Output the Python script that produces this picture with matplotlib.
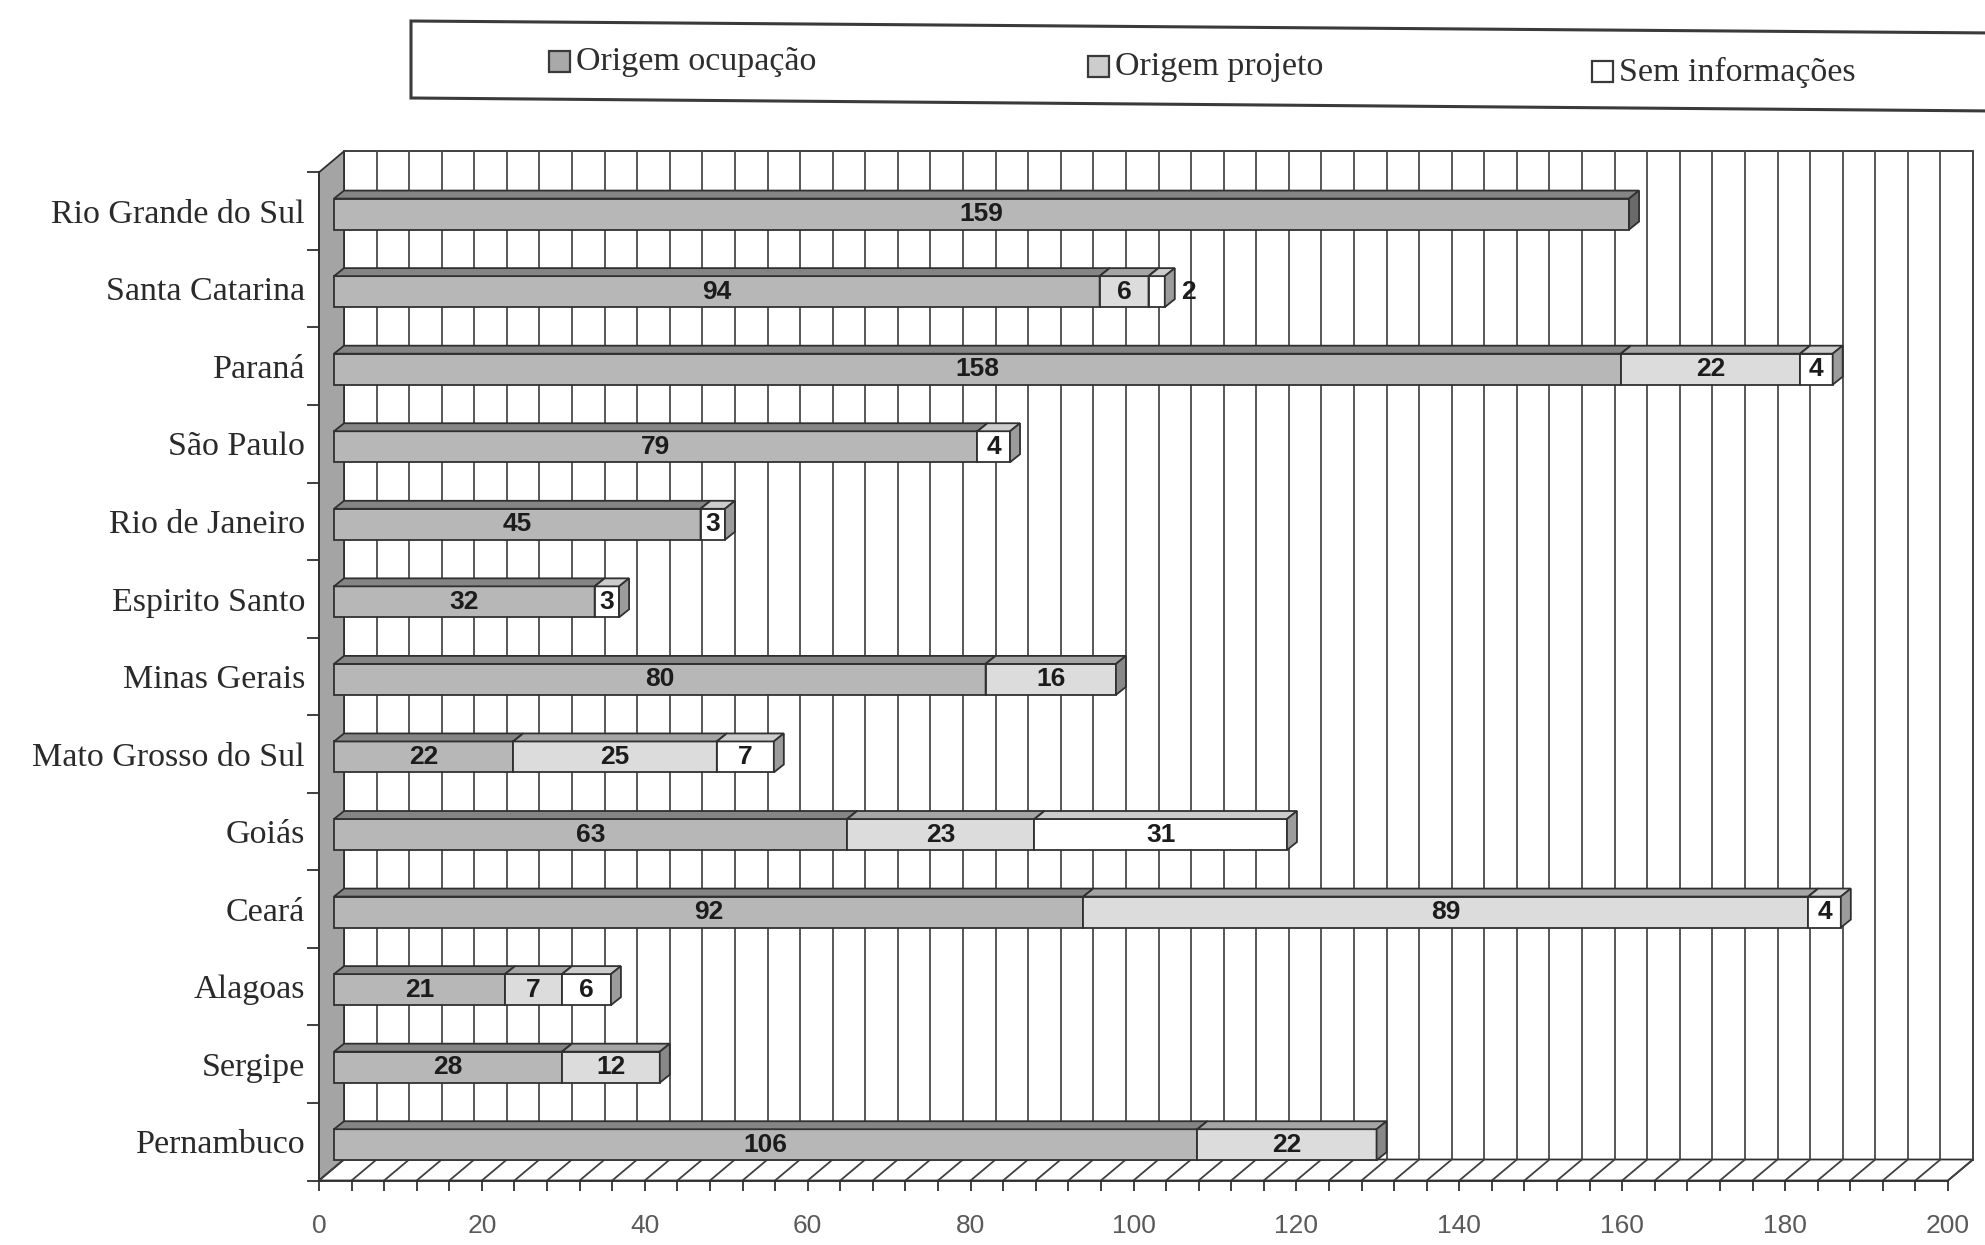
import matplotlib
matplotlib.use("Agg")
import matplotlib.pyplot as plt
from matplotlib.patches import Polygon, Rectangle
from matplotlib.ticker import MultipleLocator, FixedLocator

# ---- data ----
states = ["Rio Grande do Sul", "Santa Catarina", "Paraná", "São Paulo",
          "Rio de Janeiro", "Espirito Santo", "Minas Gerais",
          "Mato Grosso do Sul", "Goiás", "Ceará", "Alagoas", "Sergipe",
          "Pernambuco"]
origem_ocupacao = [159, 94, 158, 79, 45, 32, 80, 22, 63, 92, 21, 28, 106]
origem_projeto = [0, 6, 22, 0, 0, 0, 16, 25, 23, 89, 7, 12, 22]
sem_informacoes = [0, 2, 4, 4, 3, 3, 0, 7, 31, 4, 6, 0, 0]
series_names = ["Origem ocupação", "Origem projeto", "Sem informações"]
x_ticks = [0, 20, 40, 60, 80, 100, 120, 140, 160, 180, 200]

# ---- styling ----
front_cols = ["#b7b7b7", "#dcdcdc", "#ffffff"]
top_cols = ["#858585", "#a5a5a5", "#cccccc"]
end_cols = ["#6a6a6a", "#888888", "#9c9c9c"]
legend_cols = ["#a9a9a9", "#cdcdcd", "#ffffff"]
EDGE = "#303030"
SERIF = ["Liberation Serif", "DejaVu Serif"]
SANS = ["Liberation Sans", "DejaVu Sans"]

W, H = 1985, 1245
DPI = 100
AX_L, AX_R = 319, 1948
AX_T, AX_B = 172.3, 1180.5

fig = plt.figure(figsize=(W / DPI, H / DPI), dpi=DPI)
fig.patch.set_facecolor("white")
ax = fig.add_axes([AX_L / W, 1 - AX_B / H, (AX_R - AX_L) / W, (AX_B - AX_T) / H])
ax.set_xlim(0, 200)
ax.set_ylim(len(states) - 0.5, -0.5)
ax.set_facecolor("none")

# pixel -> data unit conversion (y grows downward in data)
ux = 200 / (AX_R - AX_L)
uy = len(states) / (AX_B - AX_T)

n = len(states)
y_top, y_bot = -0.5, n - 0.5

# depth of the chart box
wdx, wdy = 25 * ux, -21 * uy

def poly(pts, fc, ec=EDGE, lw=1.3, z=1):
    ax.add_patch(Polygon(pts, closed=True, facecolor=fc, edgecolor=ec,
                         linewidth=lw, zorder=z, clip_on=False,
                         joinstyle="miter"))

# back wall with vertical gridlines
poly([(wdx, y_top + wdy), (200 + wdx, y_top + wdy),
      (200 + wdx, y_bot + wdy), (wdx, y_bot + wdy)], "white", z=0.5)
for v in range(0, 201, 4):
    ax.plot([v + wdx, v + wdx], [y_top + wdy, y_bot + wdy], color="#4a4a4a",
            lw=1.3, zorder=0.6, clip_on=False)

# side wall
poly([(0, y_top), (wdx, y_top + wdy), (wdx, y_bot + wdy), (0, y_bot)],
     "#a4a4a4", z=0.8)

# floor with slanted grid
poly([(0, y_bot), (200, y_bot), (200 + wdx, y_bot + wdy), (wdx, y_bot + wdy)],
     "white", z=0.8)
for v in range(0, 201, 4):
    ax.plot([v, v + wdx], [y_bot, y_bot + wdy], color="#404040", lw=1.3,
            zorder=0.9, clip_on=False)

# 3-D stacked bars
sx, sy = 15 * ux, 3 * uy          # bar offset into the box
bh = 31 * uy                       # bar thickness
bdx, bdy = 10 * ux, -8 * uy        # bar depth

for i in range(n):
    vals = [origem_ocupacao[i], origem_projeto[i], sem_informacoes[i]]
    yc = i + sy
    yt, yb = yc - bh / 2, yc + bh / 2
    left = 0
    for k, v in enumerate(vals):
        if v == 0:
            continue
        xa, xb = left + sx, left + v + sx
        z = 2 + i * 0.01 + k * 0.001
        poly([(xa, yt), (xb, yt), (xb, yb), (xa, yb)], front_cols[k], lw=1.3, z=z)
        poly([(xa, yt), (xb, yt), (xb + bdx, yt + bdy), (xa + bdx, yt + bdy)],
             top_cols[k], lw=1.3, z=z)
        poly([(xb, yt), (xb + bdx, yt + bdy), (xb + bdx, yb + bdy), (xb, yb)],
             end_cols[k], lw=1.3, z=z)
        if v >= 3:
            ax.text((xa + xb) / 2, yc, str(v), ha="center", va="center",
                    fontsize=19, fontweight="bold", family=SANS,
                    color="#1c1c1c", zorder=5, clip_on=False)
        else:
            ax.text(xb + bdx + 6 * ux, yc, str(v), ha="left", va="center",
                    fontsize=19, fontweight="bold", family=SANS,
                    color="#1c1c1c", zorder=5, clip_on=False)
        left += v

# axes, ticks and labels
for s in ["top", "right"]:
    ax.spines[s].set_visible(False)
for s in ["left", "bottom"]:
    ax.spines[s].set_color(EDGE)
    ax.spines[s].set_linewidth(1.3)
    ax.spines[s].set_zorder(1)

ax.set_yticks(range(n))
ax.set_yticklabels(states, family=SERIF, fontsize=24.5, color="#2a2a2a")
ax.yaxis.set_minor_locator(FixedLocator([k - 0.5 for k in range(n + 1)]))
ax.tick_params(axis="y", which="major", length=0, pad=10)
ax.tick_params(axis="y", which="minor", length=9, width=1.3, color=EDGE)

ax.set_xticks(x_ticks)
ax.set_xticklabels([str(t) for t in x_ticks], family=SANS, fontsize=19,
                   color="#5a5a5a")
ax.xaxis.set_minor_locator(MultipleLocator(4))
ax.tick_params(axis="x", which="both", length=7, width=1.3, color=EDGE,
               direction="out")
ax.tick_params(axis="x", which="major", pad=17)

# legend box along the top
def fx(p):
    return p / W

def fy(p):
    return 1 - p / H

fig.patches.append(Polygon([(fx(411), fy(21)), (fx(1995), fy(33)),
                            (fx(1995), fy(111)), (fx(411), fy(98))],
                           closed=True, facecolor="white", edgecolor="#3a3a3a",
                           linewidth=2.2, transform=fig.transFigure))
leg_x = [549, 1088, 1592]
leg_y = [62, 67, 72]
for name, col, lx, ly in zip(series_names, legend_cols, leg_x, leg_y):
    fig.patches.append(Rectangle((fx(lx), fy(ly + 10)), 21 / W, 21 / H,
                                 facecolor=col, edgecolor="#3a3a3a",
                                 linewidth=1.6, transform=fig.transFigure))
    fig.text(fx(lx + 27), fy(ly), name, family=SERIF, fontsize=24.5,
             color="#2e2e2e", ha="left", va="center")

fig.savefig("out.png", dpi=DPI, facecolor="white")
